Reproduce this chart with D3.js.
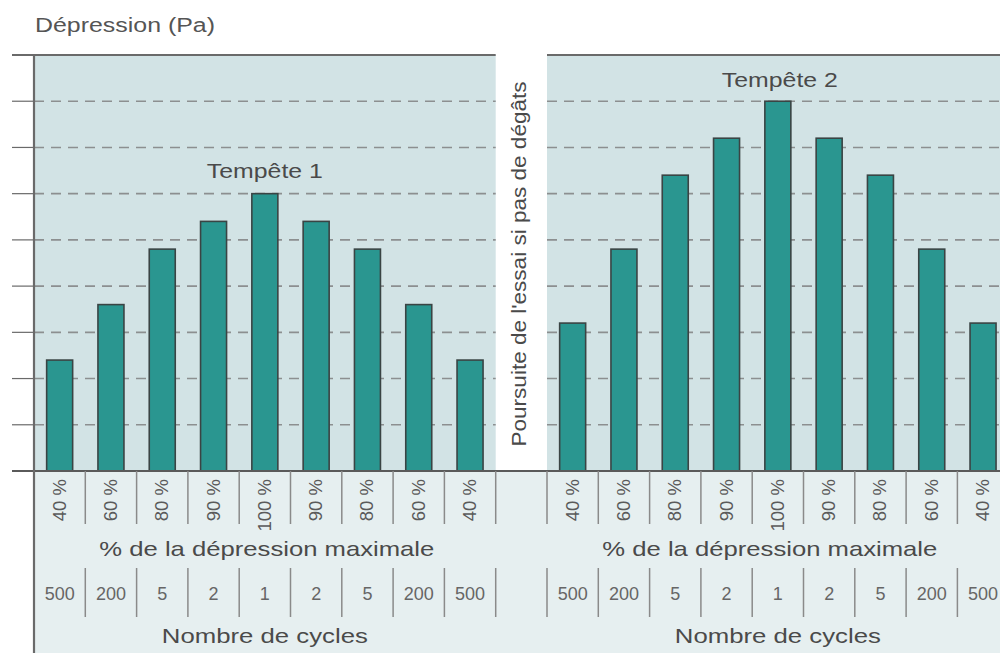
<!DOCTYPE html>
<html><head><meta charset="utf-8">
<script src="https://cdn.jsdelivr.net/npm/d3@7"></script>
<style>html,body{margin:0;padding:0;background:#fff;}svg{display:block;font-family:"Liberation Sans",Arial,sans-serif;}</style>
</head><body><svg id="c" width="1000" height="653"></svg>
<script>
const categories = ["40 %","60 %","80 %","90 %","100 %","90 %","80 %","60 %","40 %"];
const cycles = ["500","200","5","2","1","2","5","200","500"];
const storm1 = [2.4,3.6,4.8,5.4,6,5.4,4.8,3.6,2.4];
const storm2 = [3.2,4.8,6.4,7.2,8,7.2,6.4,4.8,3.2];
const stormNames = ["Tempête 1","Tempête 2"];
const yTicks = [0,1,2,3,4,5,6,7,8,9];

(function(){
const svg = d3.select("#c");
const left = 34, topY = 55, base = 471, right = 1000;
const slots = d3.range(19);
const x = d3.scaleBand().domain(slots).range([left, left + 19*51.3]).padding(0);
const y = d3.scaleLinear().domain([0,9]).range([base, topY]);
const bw = 26;
const cx = i => x(i) + x.bandwidth()/2;

const g1 = categories.map((d,i)=>i);
const g2 = categories.map((d,i)=>i+10);

function fit(sel, w){ sel.attr("textLength", w).attr("lengthAdjust","spacingAndGlyphs"); return sel; }

// backgrounds
svg.append("rect").attr("x",left).attr("y",topY).attr("width",right-left).attr("height",base-topY).attr("fill","#d2e3e5");
svg.append("rect").attr("x",left).attr("y",base).attr("width",right-left).attr("height",653-base).attr("fill","#e6eff0");
svg.append("rect").attr("x",x(9)).attr("y",topY).attr("width",x.bandwidth()).attr("height",base-topY).attr("fill","#ffffff");

// dashed gridlines
const groupsExt = [[x(0), x(9)], [x(10), right]];
yTicks.filter(t=>t>0 && t<9).forEach(t=>{
  groupsExt.forEach(([a,b])=>{
    svg.append("line").attr("x1",a).attr("x2",b).attr("y1",y(t)).attr("y2",y(t))
      .attr("stroke","#8c8f90").attr("stroke-width",1.6).attr("stroke-dasharray","10,7");
  });
  svg.append("line").attr("x1",12).attr("x2",left).attr("y1",y(t)).attr("y2",y(t))
    .attr("stroke","#6a6a6a").attr("stroke-width",1.2);
});

function bars(vals, idx){
  svg.append("g").selectAll("rect").data(vals).join("rect")
    .attr("x",(d,i)=>cx(idx[i]) - bw/2)
    .attr("y",d=>y(d))
    .attr("width",bw)
    .attr("height",d=>base - y(d))
    .attr("fill","#2a9690").attr("stroke","#3a4444").attr("stroke-width",1.6);
}
bars(storm1, g1);
bars(storm2, g2);

svg.append("line").attr("x1",12).attr("x2",x(9)).attr("y1",topY).attr("y2",topY).attr("stroke","#6a6a6a").attr("stroke-width",2.2);
svg.append("line").attr("x1",x(10)).attr("x2",right).attr("y1",topY).attr("y2",topY).attr("stroke","#6a6a6a").attr("stroke-width",2.2);
svg.append("line").attr("x1",12).attr("x2",right).attr("y1",base).attr("y2",base).attr("stroke","#5a5a5a").attr("stroke-width",2);
svg.append("line").attr("x1",left).attr("x2",left).attr("y1",topY).attr("y2",653).attr("stroke","#6a6a6a").attr("stroke-width",2.2);

// storm labels
fit(svg.append("text").attr("x",cx(4)).attr("y",y(6)-16).attr("text-anchor","middle")
  .attr("font-size",21).attr("fill","#4a4a4a").text(stormNames[0]), 116);
fit(svg.append("text").attr("x",cx(14)+2).attr("y",y(8)-14).attr("text-anchor","middle")
  .attr("font-size",21).attr("fill","#4a4a4a").text(stormNames[1]), 116);

// stripe text
fit(svg.append("text").attr("transform",`translate(${cx(9)+5},${(topY+base)/2 + 1}) rotate(-90)`)
  .attr("text-anchor","middle").attr("font-size",19.5).attr("fill","#4a4a4a")
  .text("Poursuite de l'essai si pas de dégâts"), 365);

// y label
fit(svg.append("text").attr("x",35).attr("y",32).attr("font-size",20).attr("fill","#555").text("Dépression (Pa)"), 180);

// table separators
const sepX = d3.range(1,19).map(i=>x(i));
svg.append("g").selectAll("line").data(sepX).join("line")
  .attr("x1",d=>d).attr("x2",d=>d).attr("y1",base).attr("y2",524)
  .attr("stroke","#8a8a8a").attr("stroke-width",1.5);
svg.append("g").selectAll("line").data(sepX).join("line")
  .attr("x1",d=>d).attr("x2",d=>d).attr("y1",568).attr("y2",617)
  .attr("stroke","#8a8a8a").attr("stroke-width",1.5);

[g1,g2].forEach(idx=>{
  svg.append("g").selectAll("text").data(categories).join("text")
    .attr("transform",(d,i)=>`translate(${cx(idx[i])+6},${479}) rotate(-90)`)
    .attr("text-anchor","end").attr("font-size",18.5).attr("fill","#5a5a5a").text(d=>d);
  svg.append("g").selectAll("text").data(cycles).join("text")
    .attr("x",(d,i)=>cx(idx[i])).attr("y",600)
    .attr("text-anchor","middle").attr("font-size",18).attr("fill","#666").text(d=>d);
});

[[cx(4)+2, cx(4)], [cx(14)-8, cx(14)]].forEach(([c1,c2])=>{
  fit(svg.append("text").attr("x",c1).attr("y",556).attr("text-anchor","middle").attr("font-size",21).attr("fill","#4a4a4a").text("% de la dépression maximale"), 335);
  fit(svg.append("text").attr("x",c2).attr("y",643).attr("text-anchor","middle").attr("font-size",21).attr("fill","#4a4a4a").text("Nombre de cycles"), 206);
});
})();
</script></body></html>
